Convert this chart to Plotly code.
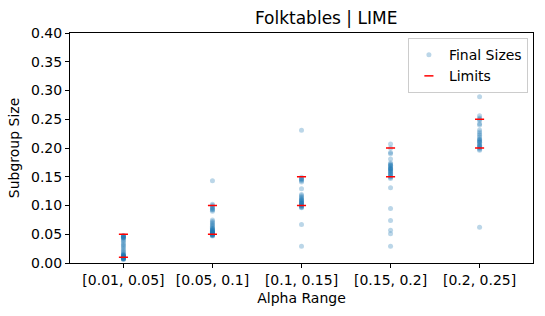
import plotly.graph_objects as go

categories = ["[0.01, 0.05]", "[0.05, 0.1]", "[0.1, 0.15]", "[0.15, 0.2]", "[0.2, 0.25]"]
lower_limits = [0.01, 0.05, 0.10, 0.15, 0.20]
upper_limits = [0.05, 0.10, 0.15, 0.20, 0.25]

sizes_g0 = [0.048, 0.047, 0.046, 0.045, 0.044, 0.044, 0.042, 0.040, 0.038, 0.035, 0.032, 0.030,
            0.028, 0.025, 0.022, 0.020, 0.018, 0.016, 0.015, 0.014, 0.013, 0.012, 0.011, 0.010,
            0.010, 0.009, 0.009, 0.008, 0.008, 0.007, 0.012, 0.011, 0.010, 0.006, 0.007, 0.008,
            0.009, 0.013, 0.046, 0.047]
sizes_g1 = [0.143, 0.102, 0.100, 0.098, 0.095, 0.092, 0.090, 0.096, 0.093, 0.075, 0.072, 0.070,
            0.068, 0.066, 0.064, 0.062, 0.060, 0.058, 0.057, 0.056, 0.055, 0.054, 0.053, 0.052,
            0.051, 0.050, 0.050, 0.049, 0.048, 0.047, 0.055, 0.053, 0.052, 0.051, 0.060, 0.058,
            0.049, 0.048, 0.050, 0.054]
sizes_g2 = [0.231, 0.149, 0.147, 0.145, 0.143, 0.141, 0.146, 0.129, 0.119, 0.117, 0.115, 0.113,
            0.111, 0.109, 0.107, 0.105, 0.103, 0.101, 0.100, 0.099, 0.098, 0.097, 0.096, 0.110,
            0.105, 0.102, 0.104, 0.108, 0.067, 0.029]
sizes_g3 = [0.207, 0.200, 0.192, 0.190, 0.181, 0.174, 0.172, 0.170, 0.168, 0.166, 0.164, 0.162,
            0.160, 0.158, 0.156, 0.154, 0.152, 0.150, 0.149, 0.147, 0.165, 0.160, 0.155, 0.170,
            0.163, 0.131, 0.095, 0.074, 0.057, 0.051, 0.029]
sizes_g4 = [0.289, 0.256, 0.252, 0.250, 0.248, 0.242, 0.240, 0.2315, 0.228, 0.225, 0.222, 0.219,
            0.216, 0.213, 0.210, 0.207, 0.204, 0.201, 0.198, 0.196, 0.215, 0.210, 0.205, 0.200,
            0.212, 0.203, 0.062]
groups = [sizes_g0, sizes_g1, sizes_g2, sizes_g3, sizes_g4]

y_ticks = [0.0, 0.05, 0.10, 0.15, 0.20, 0.25, 0.30, 0.35, 0.40]

xs, ys = [], []
for cat, vals in zip(categories, groups):
    xs += [cat] * len(vals)
    ys += vals

FONT = "DejaVu Sans"
fig = go.Figure()
fig.add_trace(go.Scatter(
    x=xs, y=ys, mode="markers", name="Final Sizes",
    marker=dict(color="rgba(31,119,180,0.3)", size=5, line=dict(width=0)),
))
fig.add_trace(go.Scatter(
    x=categories + categories, y=lower_limits + upper_limits, mode="markers", name="Limits",
    marker=dict(symbol="line-ew", size=6.5, color="red", line=dict(color="red", width=1.5)),
))

axis_common = dict(showline=True, linecolor="black", linewidth=1, mirror=True,
                   ticks="outside", ticklen=4, tickcolor="black", showgrid=False,
                   zeroline=False, automargin=False,
                   tickfont=dict(family=FONT, size=14, color="black"))
fig.update_layout(
    width=545, height=316,
    margin=dict(l=70, r=12, t=33, b=53),
    paper_bgcolor="white", plot_bgcolor="white",
    title=dict(text="Folktables | LIME", x=(70 + 533) / 2 / 545, xanchor="center", xref="paper",
               y=1 - 18 / 316, yanchor="middle",
               font=dict(family=FONT, size=17, color="black")),
    font=dict(family=FONT, color="black"),
    xaxis=dict(type="category", range=[-0.6, 4.6],
               title=dict(text="Alpha Range", font=dict(family=FONT, size=14), standoff=6),
               **axis_common),
    yaxis=dict(range=[0, 0.40], tickvals=y_ticks, tickformat=".2f",
               title=dict(text="Subgroup Size", font=dict(family=FONT, size=14), standoff=8),
               **axis_common),
    legend=dict(x=0.989, y=0.978, xanchor="right", yanchor="top",
                bordercolor="#cccccc", borderwidth=1, bgcolor="rgba(255,255,255,0.8)",
                font=dict(family=FONT, size=14), itemwidth=30, tracegroupgap=0),
    showlegend=True,
)

fig.write_html("out.html", config={"displayModeBar": False},
               post_script="document.body.style.margin='0';")
